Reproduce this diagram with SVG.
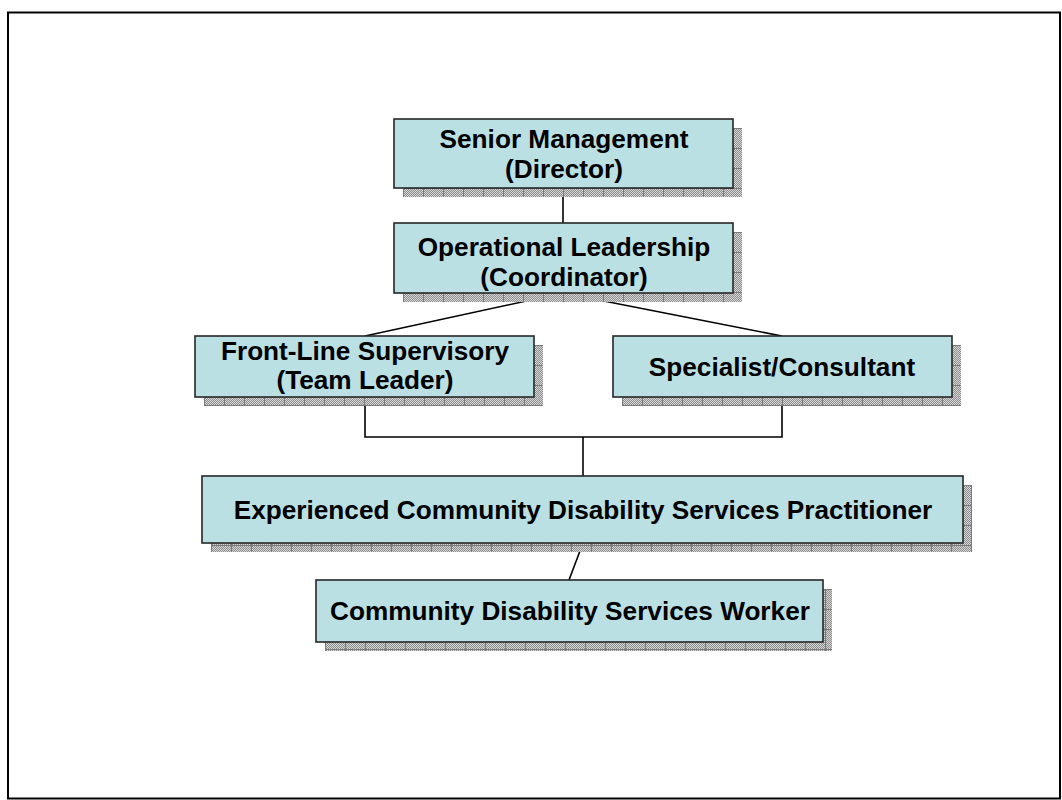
<svg xmlns="http://www.w3.org/2000/svg" width="1062" height="800" viewBox="0 0 1062 800">
  <defs>
    <!-- fine 1px dither used inside the drop-shadow tiles -->
    <pattern id="dither" width="2" height="2" patternUnits="userSpaceOnUse">
      <rect width="2" height="2" fill="#d6d6d6"/>
      <rect width="1" height="1" fill="#8e8e8e"/>
      <rect x="1" y="1" width="1" height="1" fill="#8e8e8e"/>
    </pattern>
    <!-- 20px tiles with darker seams, aligned to each shadow's origin -->
    <pattern id="shade" width="20" height="20" patternUnits="userSpaceOnUse">
      <rect width="20" height="20" fill="url(#dither)"/>
      <path d="M0 0.5H20M0.5 0V20" stroke="#7a7a7a" stroke-width="1" fill="none"/>
    </pattern>
    <style>
      .box { fill: #bbe0e3; stroke: #262626; stroke-width: 1.6; }
      .shadow { fill: url(#shade); }
      .label { font-family: "Liberation Sans", Arial, sans-serif; font-weight: bold; font-size: 26.2px; fill: #000; text-anchor: middle; }
      .link { fill: none; stroke: #000; stroke-width: 1.6; }
    </style>
  </defs>

  <rect width="1062" height="800" fill="#fff"/>
  <!-- page frame -->
  <rect x="8" y="12.5" width="1052" height="786" fill="none" stroke="#000" stroke-width="2"/>

  <g id="connectors">
    <path class="link" d="M563 188V223"/>
    <path class="link" d="M563 293L365 336"/>
    <path class="link" d="M563 293L782 336"/>
    <path class="link" d="M365 397V437H782V397"/>
    <path class="link" d="M583 437V476"/>
    <path class="link" d="M583 543L569 580"/>
  </g>

  <g id="senior-management">
    <rect class="shadow" width="339" height="69" transform="translate(403,128)"/>
    <rect class="box" x="394" y="119" width="339" height="69"/>
    <text class="label" x="564" y="148">Senior Management</text>
    <text class="label" x="564" y="178">(Director)</text>
  </g>

  <g id="operational-leadership">
    <rect class="shadow" width="339" height="70" transform="translate(403,232)"/>
    <rect class="box" x="394" y="223" width="339" height="70"/>
    <text class="label" x="564" y="256">Operational Leadership</text>
    <text class="label" x="564" y="286">(Coordinator)</text>
  </g>

  <g id="front-line-supervisory">
    <rect class="shadow" width="339" height="61" transform="translate(204,345)"/>
    <rect class="box" x="195" y="336" width="339" height="61"/>
    <text class="label" x="365" y="360">Front-Line Supervisory</text>
    <text class="label" x="365" y="389">(Team Leader)</text>
  </g>

  <g id="specialist-consultant">
    <rect class="shadow" width="339" height="61" transform="translate(622,345)"/>
    <rect class="box" x="613" y="336" width="339" height="61"/>
    <text class="label" x="782" y="376">Specialist/Consultant</text>
  </g>

  <g id="experienced-practitioner">
    <rect class="shadow" width="761" height="67" transform="translate(211,485)"/>
    <rect class="box" x="202" y="476" width="761" height="67"/>
    <text class="label" x="583" y="519">Experienced Community Disability Services Practitioner</text>
  </g>

  <g id="community-worker">
    <rect class="shadow" width="507" height="62" transform="translate(325,589)"/>
    <rect class="box" x="316" y="580" width="507" height="62"/>
    <text class="label" x="570" y="620">Community Disability Services Worker</text>
  </g>
</svg>
